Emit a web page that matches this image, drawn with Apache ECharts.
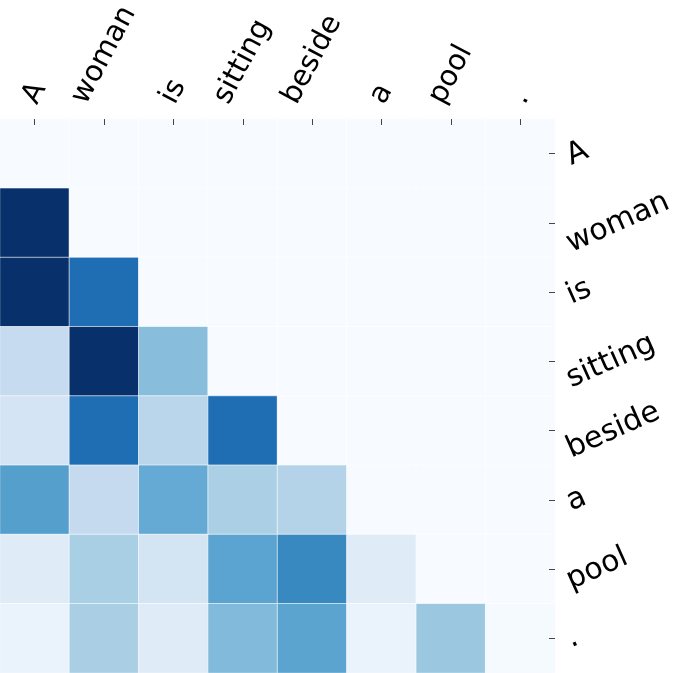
<!DOCTYPE html>
<html>
<head>
<meta charset="utf-8">
<script src="https://cdn.jsdelivr.net/npm/echarts@6/dist/echarts.min.js"></script>
<style>
html,body{margin:0;padding:0;background:#fff;}
#chart{width:676px;height:673px;}
</style>
</head>
<body>
<div id="chart"></div>
<script>
// Tokens (column = attended token, row = query token)
const tokens = ['A', 'woman', 'is', 'sitting', 'beside', 'a', 'pool', '.'];

// Attention weights, one array per row (query token)
const rowA       = [0, 0, 0, 0, 0, 0, 0, 0];
const rowWoman   = [1.0, 0, 0, 0, 0, 0, 0, 0];
const rowIs      = [0.62, 0.38, 0, 0, 0, 0, 0, 0];
const rowSitting = [0.125, 0.66, 0.215, 0, 0, 0, 0, 0];
const rowBeside  = [0.089, 0.38, 0.144, 0.38, 0, 0, 0, 0];
const rowArticle = [0.284, 0.127, 0.259, 0.167, 0.153, 0, 0, 0];
const rowPool    = [0.06, 0.17, 0.09, 0.274, 0.33, 0.06, 0, 0];
const rowDot     = [0.033, 0.169, 0.06, 0.223, 0.273, 0.033, 0.191, 0.005];
const weightRows = [rowA, rowWoman, rowIs, rowSitting, rowBeside, rowArticle, rowPool, rowDot];

// Colour scale (matplotlib "Blues"), vmin 0, vmax 0.5
const bluesPalette = ['#f7fbff', '#deebf7', '#c6dbef', '#9ecae1', '#6baed6', '#4292c6', '#2171b5', '#08519c', '#08306b'];
const colorMin = 0;
const colorMax = 0.5;

const FONT_FAMILY = '"DejaVu Sans", sans-serif';
const TOP_FONT = 29;
const RIGHT_FONT = 30;
const TOP_ANGLE = 62;
const RIGHT_ANGLE = 24;

const cells = [];
weightRows.forEach((row, r) => row.forEach((v, c) => cells.push([c, r, v])));

const measureCtx = document.createElement('canvas').getContext('2d');
function textWidth(s, size) {
  measureCtx.font = size + 'px ' + FONT_FAMILY;
  return measureCtx.measureText(s).width;
}

// Per-label rich styles reproducing matplotlib's rotated-label alignment
const topRich = {};
const rightRich = {};
const tR = TOP_ANGLE * Math.PI / 180;
const rR = RIGHT_ANGLE * Math.PI / 180;
tokens.forEach((t, i) => {
  const Lt = textWidth(t, TOP_FONT);
  const Lr = textWidth(t, RIGHT_FONT);
  topRich['t' + i] = {
    fontSize: TOP_FONT, fontFamily: FONT_FAMILY, color: '#000',
    padding: [0, 0, Lt * Math.sin(tR) * Math.cos(tR), Lt * Math.sin(tR) * Math.sin(tR)]
  };
  rightRich['r' + i] = {
    fontSize: RIGHT_FONT, fontFamily: FONT_FAMILY, color: '#000',
    padding: [Lr * Math.sin(rR) * Math.cos(rR), 0, 0, Lr * Math.cos(rR) * Math.cos(rR)]
  };
});

const chart = echarts.init(document.getElementById('chart'), null, { renderer: 'canvas' });
chart.setOption({
  animation: false,
  backgroundColor: '#fff',
  grid: { left: 0, top: 119, right: 121, bottom: 0, containLabel: false, outerBoundsMode: 'none' },
  xAxis: {
    type: 'category',
    position: 'top',
    data: tokens,
    axisLine: { show: false },
    splitLine: { show: false },
    axisTick: { show: true, inside: true, alignWithLabel: true, length: 6, lineStyle: { color: '#444', width: 1 } },
    axisLabel: {
      interval: 0,
      hideOverlap: false,
      rotate: -TOP_ANGLE,
      align: 'center',
      verticalAlign: 'middle',
      margin: 17,
      fontSize: TOP_FONT,
      fontFamily: FONT_FAMILY,
      color: '#000',
      formatter: (v, i) => '{t' + i + '|' + v + '}',
      rich: topRich
    },
    z: 10
  },
  yAxis: {
    type: 'category',
    position: 'right',
    inverse: true,
    data: tokens,
    axisLine: { show: false },
    splitLine: { show: false },
    axisTick: { show: true, inside: true, alignWithLabel: true, length: 6, lineStyle: { color: '#444', width: 1 } },
    axisLabel: {
      interval: 0,
      hideOverlap: false,
      rotate: RIGHT_ANGLE,
      align: 'center',
      verticalAlign: 'middle',
      margin: 13,
      fontSize: RIGHT_FONT,
      fontFamily: FONT_FAMILY,
      color: '#000',
      formatter: (v, i) => '{r' + i + '|' + v + '}',
      rich: rightRich
    },
    z: 10
  },
  visualMap: {
    type: 'continuous',
    show: false,
    min: colorMin,
    max: colorMax,
    dimension: 2,
    inRange: { color: bluesPalette },
    outOfRange: { color: bluesPalette[bluesPalette.length - 1] }
  },
  series: [{
    type: 'heatmap',
    data: cells,
    itemStyle: { borderColor: 'rgba(255,255,255,0.6)', borderWidth: 1 },
    emphasis: { disabled: true },
    label: { show: false }
  }]
});
</script>
</body>
</html>
